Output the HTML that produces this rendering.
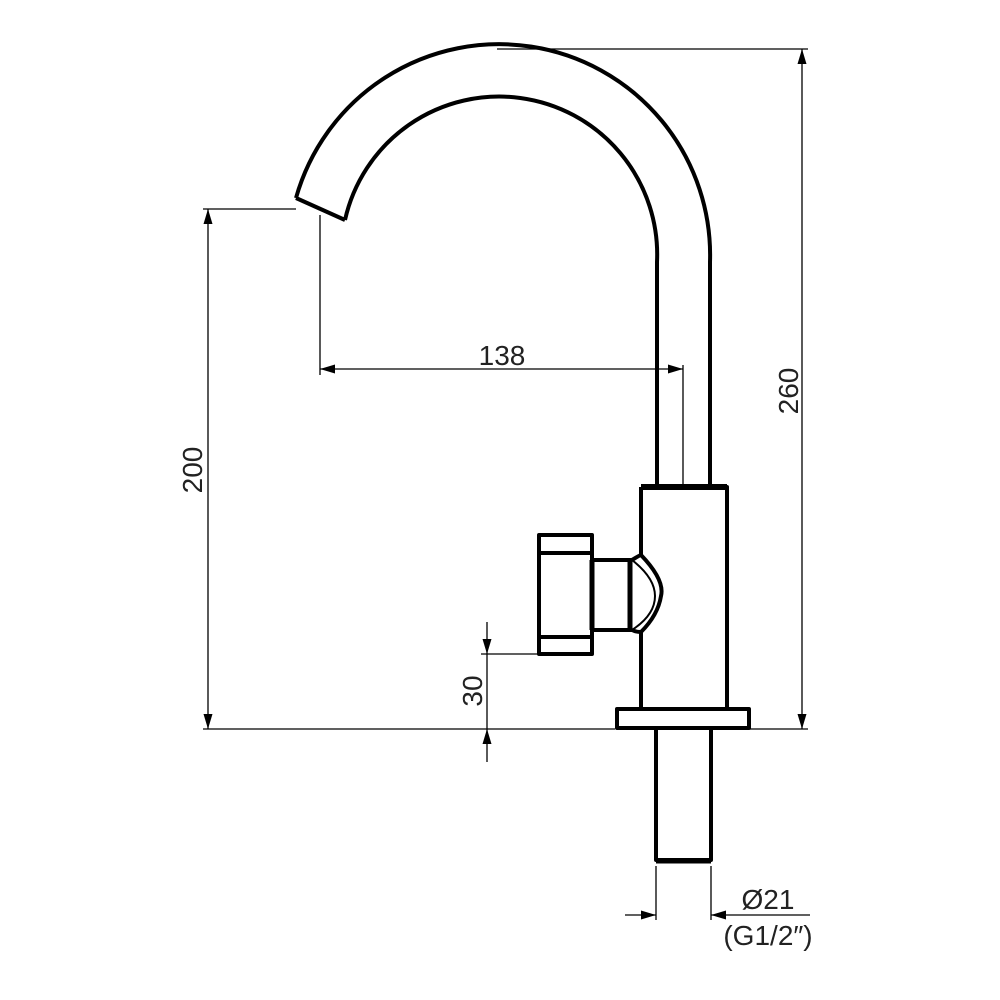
<!DOCTYPE html>
<html><head><style>body{margin:0;background:#fff}svg{display:block}</style></head><body>
<svg width="1000" height="1000" viewBox="0 0 1000 1000" xmlns="http://www.w3.org/2000/svg">
<defs>
<marker id="a" viewBox="0 0 10 6" refX="10" refY="3" markerWidth="16" markerHeight="9" markerUnits="userSpaceOnUse" orient="auto-start-reverse"><path d="M0,0L10,3L0,6z" fill="#000"/></marker>
</defs>
<g fill="none" stroke="#000" stroke-width="4" stroke-linejoin="round">
<path d="M296,198 A211,211 0 0 1 710,262 L710,487"/>
<path d="M345,220 A158,158 0 0 1 657,262 L657,487"/>
<path d="M296,198 L345,220"/>
<path d="M641,487 L727,487 L727,709 M641,487 L641,555 M641,632 L641,709"/>
<path d="M641,487 L727,487" stroke-width="6"/>
<rect x="617" y="709" width="132" height="19"/>
<path d="M656,728 L656,860 L711,860 L711,728"/>
<path d="M656,861 L711,861" stroke-width="5"/>
<rect x="539" y="535" width="53" height="119"/>
<path d="M541,553 L590,553 M541,637 L590,637"/>
<path d="M592,560 L632,560 M592,630 L632,630"/>
<path d="M630,560 L630,630" stroke-width="5"/>
<path d="M592,560 L592,630" stroke-width="5"/>
<path d="M632,560 Q640,555 641,555 Q665,580 661,596 Q658,615 641,632 Q636,632 632,630"/>
<path d="M632,560 Q655,578 655,596 Q655,615 632,630" stroke-width="2"/>
</g>
<g fill="none" stroke="#000" stroke-width="1.3">
<path d="M497,49 L808,49 M750,729 L808,729"/>
<path d="M802,49 L802,729" marker-start="url(#a)" marker-end="url(#a)"/>
<path d="M203,209 L296,209 M203,729 L615,729"/>
<path d="M208,209 L208,729" marker-start="url(#a)" marker-end="url(#a)"/>
<path d="M320,215 L320,375 M683,365 L683,487"/>
<path d="M320,369 L683,369" marker-start="url(#a)" marker-end="url(#a)"/>
<path d="M481,654 L538,654"/>
<path d="M487,622 L487,654" marker-end="url(#a)"/>
<path d="M487,762 L487,729" marker-end="url(#a)"/>
<path d="M487,654 L487,729"/>
<path d="M656,866 L656,920 M711,866 L711,920"/>
<path d="M625,915 L656,915" marker-end="url(#a)"/>
<path d="M810,915 L711,915" marker-end="url(#a)"/>
</g>
<g font-family="Liberation Sans, sans-serif" font-size="28" fill="#222" text-anchor="middle">
<text x="502" y="365">138</text>
<text transform="translate(202,470) rotate(-90)">200</text>
<text transform="translate(798,391) rotate(-90)">260</text>
<text transform="translate(482,691) rotate(-90)">30</text>
<text x="768" y="909">Ø21</text>
<text x="768" y="945">(G1/2″)</text>
</g>
</svg>
</body></html>
